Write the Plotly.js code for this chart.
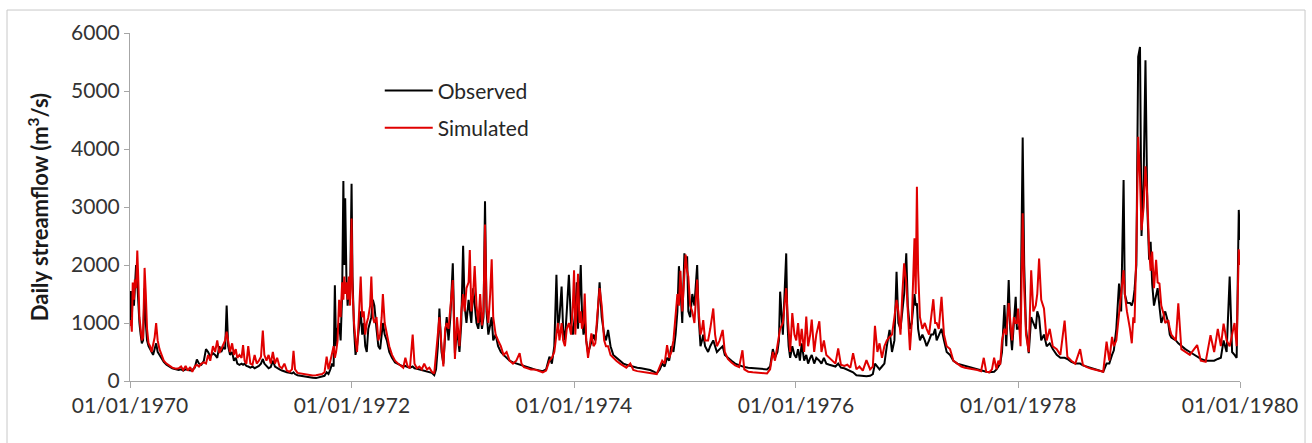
<!DOCTYPE html>
<html>
<head>
<meta charset="utf-8">
<script src="https://cdn.plot.ly/plotly-3.0.1.min.js"></script>
<style>
  html, body { margin: 0; padding: 0; background: #ffffff; }
  #chart { width: 1312px; height: 443px; }
</style>
</head>
<body>
<div id="chart"></div>
<script>
// ---- Data (m3/s) ----
const dates = [
  // 1970
  '1970-01-01','1970-01-04','1970-01-07','1970-01-10','1970-01-14','1970-01-17','1970-01-21','1970-01-25','1970-01-28','1970-02-01',
  '1970-02-05','1970-02-09','1970-02-13','1970-02-18','1970-02-22','1970-02-26','1970-03-03','1970-03-08','1970-03-13','1970-03-18',
  '1970-03-23','1970-03-28','1970-04-02','1970-04-08','1970-04-15','1970-04-22','1970-05-01','1970-05-10','1970-05-20','1970-06-01',
  '1970-06-10','1970-06-18','1970-06-25','1970-07-03','1970-07-10','1970-07-18','1970-07-25','1970-08-02','1970-08-09','1970-08-16',
  '1970-08-24','1970-09-01','1970-09-08','1970-09-15','1970-09-22','1970-10-01','1970-10-08','1970-10-15','1970-10-22','1970-10-28',
  '1970-11-04','1970-11-10','1970-11-15','1970-11-20','1970-11-26','1970-12-03','1970-12-09','1970-12-15','1970-12-20','1970-12-27',
  // 1971
  '1971-01-03','1971-01-08','1971-01-13','1971-01-19','1971-01-25','1971-02-01','1971-02-08','1971-02-15','1971-02-22','1971-03-01',
  '1971-03-08','1971-03-14','1971-03-19','1971-03-26','1971-04-02','1971-04-09','1971-04-16','1971-04-23','1971-04-30','1971-05-08',
  '1971-05-16','1971-05-24','1971-06-01','1971-06-10','1971-06-18','1971-06-23','1971-06-28','1971-07-06','1971-07-15','1971-07-25',
  '1971-08-05','1971-08-15','1971-08-25','1971-09-05','1971-09-15','1971-09-25','1971-10-03','1971-10-10','1971-10-16','1971-10-22',
  '1971-10-28','1971-11-02','1971-11-06','1971-11-10','1971-11-15','1971-11-20','1971-11-25','1971-11-30','1971-12-04','1971-12-07',
  '1971-12-10','1971-12-14','1971-12-18','1971-12-22','1971-12-26','1971-12-31',
  // 1972
  '1972-01-03','1972-01-08','1972-01-13','1972-01-18','1972-01-24','1972-01-30','1972-02-04','1972-02-09','1972-02-14','1972-02-19',
  '1972-02-24','1972-03-01','1972-03-05','1972-03-10','1972-03-15','1972-03-22','1972-03-28','1972-04-03','1972-04-08','1972-04-12',
  '1972-04-18','1972-04-25','1972-05-03','1972-05-12','1972-05-22','1972-06-01','1972-06-10','1972-06-18','1972-06-25','1972-07-02',
  '1972-07-10','1972-07-19','1972-07-25','1972-08-02','1972-08-10','1972-08-18','1972-08-26','1972-09-04','1972-09-12','1972-09-20',
  '1972-09-28','1972-10-04','1972-10-10','1972-10-15','1972-10-22','1972-10-28','1972-11-03','1972-11-08','1972-11-14','1972-11-20',
  '1972-11-28','1972-12-05','1972-12-12','1972-12-20','1972-12-26',
  // 1973
  '1973-01-01','1973-01-06','1973-01-12','1973-01-19','1973-01-23','1973-01-28','1973-02-03','1973-02-08','1973-02-14','1973-02-20',
  '1973-02-26','1973-03-04','1973-03-09','1973-03-14','1973-03-19','1973-03-25','1973-03-31','1973-04-05','1973-04-10','1973-04-18',
  '1973-04-26','1973-05-05','1973-05-14','1973-05-24','1973-06-03','1973-06-14','1973-06-25','1973-07-06','1973-07-12','1973-07-20',
  '1973-08-01','1973-08-12','1973-08-24','1973-09-05','1973-09-20','1973-10-01','1973-10-12','1973-10-20','1973-10-28','1973-11-04',
  '1973-11-09','1973-11-14','1973-11-21','1973-11-26','1973-12-02','1973-12-08','1973-12-15','1973-12-22','1973-12-28',
  // 1974
  '1974-01-01','1974-01-05','1974-01-10','1974-01-14','1974-01-19','1974-01-23','1974-01-27','1974-02-01','1974-02-05','1974-02-10',
  '1974-02-16','1974-02-22','1974-02-27','1974-03-06','1974-03-12','1974-03-18','1974-03-26','1974-04-02','1974-04-10','1974-04-16',
  '1974-04-23','1974-05-01','1974-05-10','1974-05-20','1974-06-01','1974-06-12','1974-06-22','1974-07-05','1974-07-15','1974-07-28',
  '1974-08-10','1974-08-25','1974-09-08','1974-09-20','1974-09-30','1974-10-10','1974-10-18','1974-10-26','1974-11-03','1974-11-10',
  '1974-11-17','1974-11-24','1974-12-01','1974-12-07','1974-12-12','1974-12-17','1974-12-23','1974-12-30',
  // 1975
  '1975-01-03','1975-01-08','1975-01-12','1975-01-18','1975-01-25','1975-02-01','1975-02-10','1975-02-15','1975-02-21','1975-02-26',
  '1975-03-02','1975-03-08','1975-03-18','1975-03-25','1975-04-04','1975-04-10','1975-04-16','1975-04-25','1975-05-05','1975-05-12',
  '1975-05-22','1975-06-03','1975-06-15','1975-06-28','1975-07-09','1975-07-15','1975-07-28','1975-08-12','1975-08-28','1975-09-12',
  '1975-09-28','1975-10-08','1975-10-17','1975-10-24','1975-11-01','1975-11-06','1975-11-10','1975-11-19','1975-11-30','1975-12-04',
  '1975-12-08','1975-12-13','1975-12-20','1975-12-27',
  // 1976
  '1976-01-02','1976-01-08','1976-01-14','1976-01-20','1976-01-28','1976-02-04','1976-02-10','1976-02-17','1976-02-22','1976-03-01',
  '1976-03-08','1976-03-18','1976-03-25','1976-04-02','1976-04-10','1976-04-20','1976-05-01','1976-05-10','1976-05-19','1976-05-28',
  '1976-06-08','1976-06-18','1976-06-28','1976-07-07','1976-07-18','1976-07-28','1976-08-08','1976-08-20','1976-09-01','1976-09-10',
  '1976-09-17','1976-09-25','1976-10-02','1976-10-10','1976-10-18','1976-10-26','1976-11-04','1976-11-12','1976-11-20','1976-11-27',
  '1976-12-03','1976-12-10','1976-12-16','1976-12-22','1976-12-29',
  // 1977
  '1977-01-03','1977-01-10','1977-01-16','1977-01-25','1977-01-29','1977-02-02','1977-02-06','1977-02-12','1977-02-20','1977-02-28',
  '1977-03-06','1977-03-14','1977-03-21','1977-03-28','1977-04-03','1977-04-08','1977-04-15','1977-04-24','1977-05-02','1977-05-11',
  '1977-05-22','1977-06-02','1977-06-15','1977-06-28','1977-07-10','1977-07-22','1977-08-05','1977-08-20','1977-09-01','1977-09-10',
  '1977-09-18','1977-09-28','1977-10-07','1977-10-14','1977-10-22','1977-10-28','1977-11-03','1977-11-09','1977-11-17','1977-11-23',
  '1977-12-01','1977-12-06','1977-12-12','1977-12-18','1977-12-24','1977-12-28',
  // 1978
  '1978-01-01','1978-01-09','1978-01-16','1978-01-21','1978-01-27','1978-02-05','1978-02-13','1978-02-20','1978-02-28','1978-03-05',
  '1978-03-11','1978-03-18','1978-03-27','1978-04-05','1978-04-15','1978-04-25','1978-05-08','1978-05-20','1978-06-03','1978-06-12',
  '1978-06-25','1978-07-08','1978-07-24','1978-08-02','1978-08-15','1978-08-30','1978-09-12','1978-09-25','1978-10-08','1978-10-19',
  '1978-10-28','1978-11-06','1978-11-12','1978-11-20','1978-11-29','1978-12-06','1978-12-14','1978-12-18','1978-12-25',
  // 1979
  '1979-01-04','1979-01-10','1979-01-15','1979-01-19','1979-01-25','1979-01-31','1979-02-06','1979-02-11','1979-02-18','1979-02-24',
  '1979-03-02','1979-03-08','1979-03-13','1979-03-18','1979-03-24','1979-03-31','1979-04-05','1979-04-11','1979-04-17','1979-04-24',
  '1979-04-30','1979-05-10','1979-05-15','1979-05-20','1979-06-04','1979-06-12','1979-06-22','1979-07-05','1979-07-20','1979-08-13',
  '1979-08-25','1979-09-10','1979-09-26','1979-10-08','1979-10-20','1979-10-30','1979-11-08','1979-11-18','1979-11-28','1979-12-06',
  '1979-12-14','1979-12-21','1979-12-28','1980-01-01'
];

const observed = [
  // 1970
  1000,1550,1100,1500,1300,1700,2000,1700,1300,1000,
  800,650,700,1600,1000,700,600,550,500,450,
  550,650,500,450,380,330,280,250,220,200,
  190,200,180,200,190,180,190,230,370,300,
  280,350,550,500,420,480,450,400,600,500,
  580,550,1300,600,450,500,350,400,300,280,
  // 1971
  300,280,300,260,250,230,250,220,240,260,
  300,380,300,250,220,240,350,250,220,200,
  180,160,150,140,130,150,120,100,90,80,
  70,60,55,50,60,70,90,150,120,200,
  300,250,1650,600,900,1000,700,1500,3450,2000,
  3150,1800,1300,1600,1400,3400,
  // 1972
  1800,900,450,600,900,1200,800,1000,600,500,
  900,1000,1100,1400,1300,900,600,550,800,1000,
  800,700,500,400,320,300,270,250,260,240,
  230,250,220,210,200,190,180,170,160,140,
  100,200,600,1250,500,300,800,1100,700,1100,
  2030,480,900,500,1000,
  // 1973
  2330,1300,1000,1400,1200,1000,1600,1300,1000,900,
  1200,900,1100,3100,1200,800,1000,1100,700,800,
  600,500,450,400,350,320,300,280,270,250,
  230,220,200,190,170,200,420,300,600,1830,
  900,1100,1630,900,700,1200,1830,1000,800,
  // 1974
  1000,1200,1700,900,1500,2000,1200,800,1100,700,
  480,600,700,800,700,1000,1700,1100,800,700,
  880,600,450,400,350,300,280,260,240,230,
  220,210,190,160,130,200,300,250,400,350,
  600,500,800,1200,1980,1600,1000,2200,
  // 1975
  2000,2150,1200,1100,1500,1300,2000,1100,600,700,
  800,600,500,600,700,600,500,550,600,450,
  400,350,300,270,250,240,230,220,220,210,
  200,250,550,400,500,700,1540,800,2200,1000,
  600,400,600,450,
  // 1976
  400,550,350,650,350,450,300,400,450,300,
  400,350,300,400,300,280,260,250,300,230,
  220,200,180,150,100,90,80,80,90,120,
  300,250,200,250,300,600,880,500,700,1885,
  1000,900,1200,1500,2200,
  // 1977
  1300,900,1000,1500,1300,1340,900,700,800,700,
  600,700,800,800,900,700,800,900,700,500,
  450,350,300,280,260,240,220,200,180,170,
  160,150,150,160,200,250,300,500,1310,600,
  1740,900,530,1000,1450,900,
  // 1978
  900,1000,4200,2000,900,480,1100,1000,900,1200,
  1100,700,800,600,650,550,450,400,400,380,
  330,300,300,270,250,220,200,180,160,300,
  300,450,530,900,1680,1200,3465,1500,1350,
  // 1979
  1345,1300,1400,1570,2000,5590,5760,2500,3500,5530,
  3000,2090,2400,1680,1300,1450,1600,1280,1000,1110,
  1200,1000,800,750,700,650,600,550,500,420,
  380,350,350,350,380,400,700,500,1800,500,
  450,400,2950,2430
];

const simulated = [
  // 1970
  950,1050,850,1700,1400,1750,1600,2250,1800,1100,
  900,700,750,1950,1500,900,650,600,500,650,
  750,1000,700,550,450,350,300,260,230,210,
  220,250,190,260,180,240,160,250,280,250,
  300,320,300,450,350,600,500,700,480,550,
  650,700,850,650,500,650,450,550,400,450,
  // 1971
  400,620,350,300,600,300,280,450,300,350,
  420,870,450,350,450,300,500,300,400,250,
  220,300,180,160,200,520,200,140,130,120,
  110,100,95,100,110,120,150,420,200,350,
  500,600,400,500,700,1400,1100,1700,1400,1800,
  1500,1700,1400,1800,1300,2800,
  // 1972
  1600,1000,700,500,1100,1800,1100,1200,800,1000,
  1100,1300,1800,1100,1000,1100,700,800,1100,1500,
  1000,800,600,450,350,300,260,230,400,260,
  220,800,300,220,250,200,300,200,230,160,
  130,500,940,1100,600,250,900,1000,900,1300,
  1740,380,1100,600,1200,
  // 1973
  1500,1200,1600,1700,2260,1200,1500,1980,1300,1000,
  1500,960,1200,2700,1300,1000,1500,2100,1100,800,
  700,600,450,500,350,300,350,480,300,240,
  220,200,200,180,150,180,350,400,500,800,
  1000,700,1000,700,600,900,1000,800,1300,
  // 1974
  1910,800,1300,1850,1000,1200,900,1000,1510,700,
  400,600,820,600,650,1100,1600,1300,700,600,
  600,450,400,350,300,270,230,300,190,170,
  160,150,140,130,120,250,350,300,620,400,
  500,700,1100,1500,1300,1900,1200,1800,
  // 1975
  2180,1900,1800,1300,1200,1000,1750,1200,800,900,
  1050,700,700,900,1250,800,600,700,880,500,
  380,320,270,240,530,200,160,150,140,140,
  130,200,500,350,600,800,900,1000,1600,1200,
  800,500,1170,800,
  // 1976
  700,1000,600,900,500,1110,600,800,1060,500,
  800,1030,500,700,450,400,350,300,560,280,
  260,280,230,480,200,250,180,360,200,250,
  950,500,650,400,600,700,760,800,1100,1400,
  1200,800,1500,2030,1700,
  // 1977
  1200,530,1000,2460,1500,3350,1910,1100,900,1000,
  900,800,1100,1410,1000,1000,900,1450,800,600,
  550,350,300,250,230,220,200,190,170,400,
  160,150,200,400,200,350,280,700,900,800,
  1345,1000,700,1100,1000,1000,
  // 1978
  1250,600,2890,1600,800,500,1910,1200,1300,1500,
  2110,1400,1250,700,900,600,550,450,1040,420,
  350,300,550,280,240,210,190,170,160,680,
  350,760,600,700,1200,1500,1910,1500,1200,
  // 1979
  900,650,1100,1000,2270,4210,3500,2600,3000,3700,
  3180,2260,1900,2230,1600,2090,1700,1680,1300,1170,
  1000,1050,900,800,700,1340,550,500,450,620,
  350,330,790,500,900,600,990,700,600,800,
  1000,600,2270,2000
];

const seriesNames = ['Observed', 'Simulated'];
const seriesColors = ['#000000', '#e00000'];

if (dates.length !== observed.length || dates.length !== simulated.length) {
  document.body.insertAdjacentHTML('afterbegin',
    '<p>Length mismatch: ' + dates.length + ' / ' + observed.length + ' / ' + simulated.length + '</p>');
}

const FONT = 'Lato, "Open Sans", sans-serif';

const traces = [
  { x: dates, y: observed, name: seriesNames[0], type: 'scatter', mode: 'lines',
    line: { color: seriesColors[0], width: 2 }, legendgroup: 'obs' },
  { x: dates, y: simulated, name: seriesNames[1], type: 'scatter', mode: 'lines',
    line: { color: seriesColors[1], width: 2 }, legendgroup: 'sim' }
];

const layout = {
  width: 1312, height: 443,
  margin: { l: 130, r: 72, t: 33, b: 62 },
  paper_bgcolor: '#ffffff', plot_bgcolor: '#ffffff',
  font: { family: FONT, color: '#333333' },
  showlegend: true,
  legend: {
    x: 0.225, y: 0.893, xanchor: 'left', yanchor: 'top',
    font: { family: FONT, size: 21, color: '#262626' },
    tracegroupgap: 7, itemwidth: 48, bgcolor: 'rgba(0,0,0,0)'
  },
  xaxis: {
    type: 'date', range: ['1970-01-01', '1980-01-01'],
    tick0: '1970-01-01', dtick: 'M24', tickformat: '%d/%m/%Y',
    ticks: 'outside', ticklen: 6, tickcolor: '#a6a6a6', tickwidth: 1,
    showline: true, linecolor: '#a6a6a6', linewidth: 1,
    showgrid: false, zeroline: false,
    tickfont: { family: FONT, size: 21, color: '#333333' }
  },
  yaxis: {
    range: [0, 6000], tick0: 0, dtick: 1000,
    ticks: 'outside', ticklen: 5, tickcolor: '#a6a6a6', tickwidth: 1,
    showline: true, linecolor: '#a6a6a6', linewidth: 1,
    showgrid: false, zeroline: false,
    tickfont: { family: FONT, size: 21, color: '#333333' },
    title: { text: 'Daily streamflow (m<sup>3</sup>/s)', standoff: 16,
             font: { family: FONT, size: 22, color: '#1a1a1a', weight: 'bold' } }
  },
  shapes: [
    { type: 'rect', xref: 'paper', yref: 'paper', x0: -0.1108, x1: 1.0586, y0: -0.2, y1: 1.066,
      line: { color: '#c8c8c8', width: 1 }, fillcolor: 'rgba(0,0,0,0)', layer: 'below' }
  ]
};

Plotly.newPlot('chart', traces, layout, { displayModeBar: false, staticPlot: true });
</script>
</body>
</html>
